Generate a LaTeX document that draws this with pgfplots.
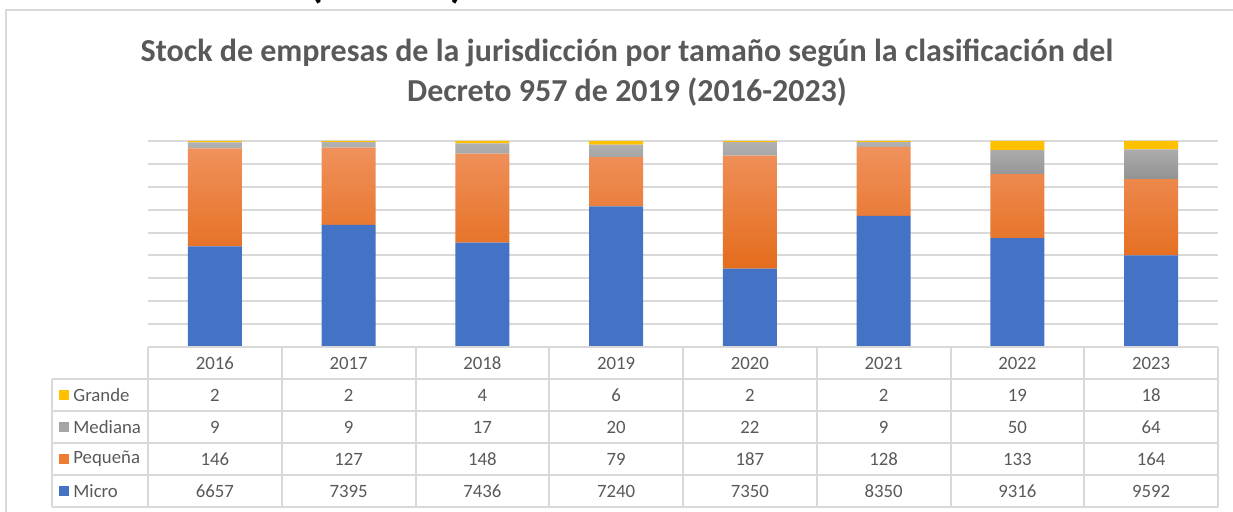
\documentclass[border=0pt]{standalone}
\usepackage{pgfplots}
\pgfplotsset{compat=1.18}
\usepackage{fontspec}
\setmainfont{Carlito}
\definecolor{txt}{HTML}{595959}
\definecolor{gridc}{HTML}{D9D9D9}
\definecolor{microc}{HTML}{4472C4}
\definecolor{microT}{HTML}{5B86D0}
\definecolor{pequT}{HTML}{F0915C}
\definecolor{pequB}{HTML}{E46C1C}
\definecolor{pequc}{HTML}{ED7D31}
\definecolor{medT}{HTML}{B2B2B2}
\definecolor{medB}{HTML}{929292}
\definecolor{medc}{HTML}{A5A5A5}
\definecolor{granc}{HTML}{FFC000}
\begin{document}
\begin{tikzpicture}
\useasboundingbox (0,0) rectangle (616.5pt,-256pt);
\begin{axis}[
  at={(74pt,-173.5pt)}, anchor=south west,
  scale only axis, width=535pt, height=103pt,
  xmin=-0.5, xmax=7.5, ymin=95.5, ymax=100,
  ybar stacked, bar width=27pt,
  axis line style={draw=none},
  major tick length=0pt,
  xtick=\empty,
  ytick={95.5,96,...,100}, yticklabels={},
  ymajorgrids, grid style={draw=gridc, line width=1pt},
  clip=true,
]
% Percentages of each year's total (Micro, Pequeña, Mediana, Grande)
\addplot[draw=none, fill=microc] coordinates {
 (0,97.6959) (1,98.1681) (2,97.7778) (3,98.5705) (4,97.2094) (5,98.3626) (6,97.8777) (7,97.4995)};
\addplot[draw=none, top color=pequT, bottom color=pequB] coordinates {
 (0,2.1426) (1,1.6859) (2,1.9461) (3,1.0756) (4,2.4732) (5,1.5078) (6,1.3974) (7,1.6670)};
\addplot[draw=none, top color=medT, bottom color=medB] coordinates {
 (0,0.1321) (1,0.1195) (2,0.2235) (3,0.2723) (4,0.2910) (5,0.1060) (6,0.5253) (7,0.6505)};
\addplot[draw=none, fill=granc] coordinates {
 (0,0.0294) (1,0.0265) (2,0.0526) (3,0.0817) (4,0.0265) (5,0.0236) (6,0.1996) (7,0.1830)};
\end{axis}
\begin{scope}[x=0.5pt,y=-0.5pt]
  % chart border
  \draw[gridc, line width=1pt] (6,560) -- (6,10) -- (1260,10);
  % cut-off heading above the chart
  \node[anchor=south, inner sep=0pt, font=\bfseries\fontsize{22}{22}\selectfont] at (316,5) {(};
  \node[anchor=south, inner sep=0pt, font=\bfseries\fontsize{22}{22}\selectfont] at (457,5) {)};
  % title
  \node[align=center, text=txt, font=\bfseries\fontsize{16}{20}\selectfont] at (627,73)
    {Stock de empresas de la jurisdicción por tamaño según la clasificación del\\Decreto 957 de 2019 (2016-2023)};
  % data table grid
  \draw[gridc, line width=1pt] (148,347) -- (1218,347);
  \foreach \yy in {379,411,443,475,507} \draw[gridc, line width=1pt] (52,\yy) -- (1218,\yy);
  \draw[gridc, line width=1pt] (52,379) -- (52,507);
  \foreach \k in {0,...,8} \draw[gridc, line width=1pt] ({148+133.75*\k},347) -- ({148+133.75*\k},507);
  % header
  \foreach \lab [count=\i from 0] in {2016,2017,2018,2019,2020,2021,2022,2023}
    \node[text=txt, font=\fontsize{9.4}{11}\selectfont] at ({148+133.75*(\i+0.5)},363) {\lab};
  % row labels with keys
  \foreach \lab/\col/\yy in {Grande/granc/395, Mediana/medc/427, Pequeña/pequc/459, Micro/microc/491}{
    \fill[\col] (59,\yy-5) rectangle (69,\yy+5);
    \node[anchor=west, inner sep=0pt, text=txt, font=\fontsize{9.4}{11}\selectfont] at (73,\yy) {\lab};
  }
  \foreach \v [count=\i from 0] in {2,2,4,6,2,2,19,18}
    \node[text=txt, font=\fontsize{9.4}{11}\selectfont] at ({148+133.75*(\i+0.5)},395) {\v};
  \foreach \v [count=\i from 0] in {9,9,17,20,22,9,50,64}
    \node[text=txt, font=\fontsize{9.4}{11}\selectfont] at ({148+133.75*(\i+0.5)},427) {\v};
  \foreach \v [count=\i from 0] in {146,127,148,79,187,128,133,164}
    \node[text=txt, font=\fontsize{9.4}{11}\selectfont] at ({148+133.75*(\i+0.5)},459) {\v};
  \foreach \v [count=\i from 0] in {6657,7395,7436,7240,7350,8350,9316,9592}
    \node[text=txt, font=\fontsize{9.4}{11}\selectfont] at ({148+133.75*(\i+0.5)},491) {\v};
\end{scope}
\end{tikzpicture}
\end{document}
